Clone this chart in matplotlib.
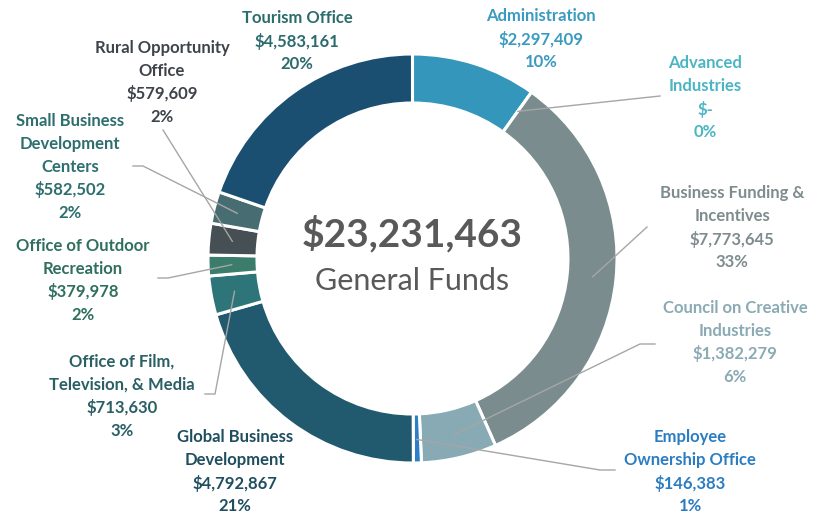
import numpy as np
from matplotlib import pyplot as plt

plt.rcParams['font.family'] = ['Lato', 'DejaVu Sans']

# data, in the order of the ring (clockwise from the top)
names = ["Administration", "Advanced\nIndustries", "Business Funding &\nIncentives",
         "Council on Creative\nIndustries", "Employee\nOwnership Office",
         "Global Business\nDevelopment", "Office of Film,\nTelevision, & Media",
         "Office of Outdoor\nRecreation", "Rural Opportunity\nOffice",
         "Small Business\nDevelopment\nCenters", "Tourism Office"]
values = [2297409, 0, 7773645, 1382279, 146383, 4792867, 713630, 379978, 579609, 582502, 4583161]
pcts = ["10%", "0%", "33%", "6%", "1%", "21%", "3%", "2%", "2%", "2%", "20%"]

wedge_colors = ["#3596bc", "#4bb5c4", "#7a8c8e", "#87aab4", "#2a7fc6", "#215a6e",
                "#2e7579", "#3b7c6a", "#454f54", "#476c72", "#1a4f72"]
text_colors = ["#3a9ac0", "#4bb5c4", "#7f8c8d", "#8aaab4", "#2b7dc2", "#1f4e5f",
               "#2a5f63", "#2f6f5e", "#3e434a", "#2e6e6e", "#2b6b6e"]

# label placement (pixels): centre x, first line y
label_pos = [(541, 16), (705, 63), (732, 193), (735, 308), (690, 437), (235, 437),
             (122, 362), (83, 246), (162, 48), (70, 121), (297, 18)]
# leader elbows / ends (None = no leader)
leaders = [None, [(660, 96)], [(647, 227)], [(640, 344), (655, 344)],
           [(600, 470), (615, 470)], None, [(215, 394), (205, 394)],
           [(168, 278), (158, 278)], [(163, 130)], [(143, 166), (133, 166)], None]

W, H = 840, 517
cx, cy, R = 412.5, 258.5, 204.5
ring = 49

fig = plt.figure(figsize=(W / 100, H / 100), dpi=100)
ax = fig.add_axes([0, 0, 1, 1])

# inverted y axis: startangle -90 is the top, counterclock runs clockwise on screen
wedges, _ = ax.pie(values, colors=wedge_colors, startangle=-90, counterclock=True,
                   center=(cx, cy), radius=R,
                   wedgeprops=dict(width=ring, edgecolor="white", linewidth=2.2))
ax.set_xlim(0, W)
ax.set_ylim(H, 0)
ax.set_aspect('equal')
ax.axis('off')

lh = 23
for i, w in enumerate(wedges):
    val = "${:,}".format(values[i]) if values[i] else "$-"
    lines = names[i].split("\n") + [val, pcts[i]]
    x0, y0 = label_pos[i]
    for k, line in enumerate(lines):
        ax.text(x0, y0 + k * lh, line, ha='center', va='center', fontsize=12,
                fontweight='bold', color=text_colors[i])
    if leaders[i] is not None:
        a = np.deg2rad((w.theta1 + w.theta2) / 2)
        pts = [(cx + 181 * np.cos(a), cy + 181 * np.sin(a))] + leaders[i]
        xs, ys = zip(*pts)
        ax.plot(xs, ys, color="#a6a6a6", linewidth=1.0)

total = sum(values)
ax.text(cx, 234, "${:,}".format(total), ha='center', va='center', fontsize=28,
        fontweight='bold', color="#595959")
ax.text(cx, 281, "General Funds", ha='center', va='center', fontsize=22, color="#595959")

plt.savefig("out.png", dpi=100)
plt.close()
